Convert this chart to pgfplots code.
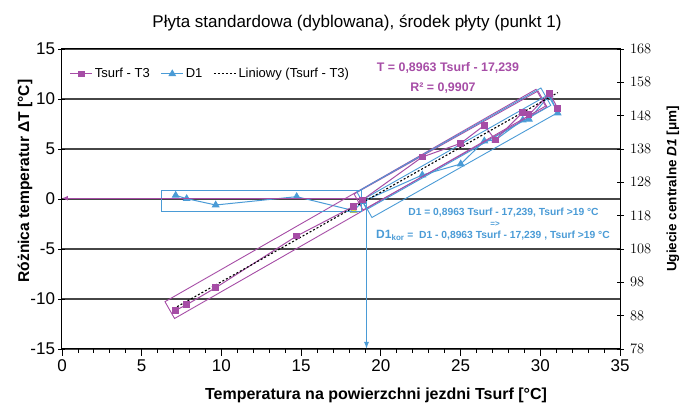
\documentclass[border=0pt]{standalone}
\usepackage{pgfplots}
\pgfplotsset{compat=1.18}
\usepackage{fontspec}
\setmainfont{Liberation Sans}
\usetikzlibrary{arrows.meta}
\definecolor{mag}{RGB}{166,77,166}
\definecolor{blu}{RGB}{74,155,214}
\definecolor{gridc}{RGB}{70,70,70}
\definecolor{yel}{RGB}{235,225,40}
\begin{document}
\begin{tikzpicture}[x=1pt,y=1pt]
\useasboundingbox (-62,-58) rectangle (619,349);
% axis 1: left axis with grid
\begin{axis}[
  scale only axis, width=558pt, height=300pt,
  at={(0,0)}, anchor=south west,
  xmin=0, xmax=35, ymin=-15, ymax=15,
  xtick={0,5,...,35}, minor x tick num=4,
  ytick={-15,-10,...,15},
  yticklabels={-15,-10,-5,0,5,10,15},
  xticklabels={0,5,10,15,20,25,30,35},
  axis line style={black, line width=1pt},
  ymajorgrids, grid style={gridc, line width=1.1pt},
  xtick pos=bottom, ytick pos=left,
  x tick style={black, line width=0.8pt}, xtick align=outside,
  y tick style={black, line width=0.8pt}, ytick align=center,
  major tick length=7pt, minor tick length=4pt,
  tick label style={font=\fontsize{17}{17}\selectfont},
]
\end{axis}
% axis 2: right axis, D1
\begin{axis}[
  scale only axis, width=558pt, height=300pt,
  at={(0,0)}, anchor=south west,
  xmin=0, xmax=35, ymin=78, ymax=168,
  axis x line=none, axis y line*=right,
  axis line style={black, line width=1pt},
  ytick={78,88,...,168},
  y tick style={black, line width=0.8pt}, ytick align=center,
  major tick length=7pt,
  tick label style={font=\fontsize{15}{15}\selectfont},
  every y tick label/.append style={xshift=3pt},
  clip=false,
]
\addplot[blu, line width=1pt, mark=triangle*, mark size=3.6pt, mark options={solid, fill=blu, draw=blu}] coordinates {
(7.13,124.1) (7.82,123.1) (9.64,121.2) (14.72,123.7) (18.30,119.5) (18.84,122.2)
(22.60,130.2) (25.01,133.5) (26.49,140.4) (27.18,140.7) (28.90,146.7) (29.29,146.9)
(30.59,154.2) (31.09,148.8)};
\addplot[only marks, mark=triangle*, mark size=3.6pt, mark options={fill=yel, draw=yel}] coordinates {(18.30,119.5)};
\end{axis}
% axis 3: magenta series, trend, legend, annotations
\begin{axis}[
  scale only axis, width=558pt, height=300pt,
  at={(0,0)}, anchor=south west,
  xmin=0, xmax=35, ymin=-15, ymax=15,
  hide axis, clip=false,
  legend columns=3,
  legend style={at={(0.012,0.917)}, anchor=west, draw=none, fill=none,
    font=\fontsize{13}{13}\selectfont, inner sep=1pt,
    /tikz/every even column/.append style={column sep=9pt}},
  legend cell align=left,
  legend image code/.code={\draw[mark repeat=2,mark phase=2,#1] plot coordinates {(0pt,0pt) (11pt,0pt) (22pt,0pt)};},
]
% boxes
\draw[mag, line width=0.9pt] (axis cs:6.46,-10.27) -- (axis cs:29.73,10.97) -- (axis cs:30.33,9.29) -- (axis cs:7.06,-11.95) -- cycle;
\draw[mag, line width=0.9pt] (axis cs:18.32,0.5) -- (axis cs:29.86,10.8) -- (axis cs:30.42,9.2) -- (axis cs:18.88,-1.1) -- cycle;
\draw[blu, line width=0.9pt] (axis cs:6.25,0.87) rectangle (axis cs:18.8,-1.27);
\draw[blu, line width=0.9pt] (axis cs:18.50,0.70) -- (axis cs:30.04,11.1) -- (axis cs:30.66,9.36) -- (axis cs:19.12,-1.04) -- cycle;
\draw[blu, line width=0.9pt] (axis cs:18.82,-0.1) -- (axis cs:30.48,10.4) -- (axis cs:31.11,8.65) -- (axis cs:19.44,-1.85) -- cycle;
% arrows
\draw[mag, line width=1.2pt, -{Latex[length=6pt,width=5pt]}] (axis cs:18.84,0.08) -- (axis cs:0,0.08);
\draw[blu, line width=1.2pt, -{Latex[length=7pt,width=5pt]}] (axis cs:19.1,0) -- (axis cs:19.1,-15);
\addplot[mag, line width=1pt, mark=square*, mark size=2.8pt, mark options={solid, fill=mag, draw=mag}] coordinates {
(7.13,-11.13) (7.82,-10.57) (9.64,-8.87) (14.72,-3.70) (18.30,-0.73) (18.84,-0.10)
(22.60,4.20) (25.01,5.57) (26.49,7.37) (27.18,5.90) (28.90,8.67) (29.29,8.43)
(30.59,10.57) (31.09,9.07)};
\addlegendentry{Tsurf - T3}
\addlegendimage{blu, line width=1pt, mark=triangle*, mark size=3.6pt, mark options={solid, fill=blu, draw=blu}}
\addlegendentry{D1}
\addplot[black, line width=1.1pt, dash pattern=on 2pt off 2pt] coordinates {(7.0,-10.965) (31.1,10.636)};
\addlegendentry{Liniowy (Tsurf - T3)}
\end{axis}
% texts
\node[font=\fontsize{17}{17}\selectfont] at (295,326) {Płyta standardowa (dyblowana), środek płyty (punkt 1)};
\node[font=\fontsize{16}{16}\selectfont\bfseries] at (314,-46) {Temperatura na powierzchni jezdni Tsurf [°C]};
\node[font=\fontsize{15.6}{15.6}\selectfont\bfseries, rotate=90] at (-37,168) {Różnica temperatur ΔT [°C]};
\node[font=\fontsize{13.5}{13.5}\selectfont\bfseries, rotate=90] at (611,160) {Ugiecie centralne \textit{D1} [μm]};
\node[mag, font=\fontsize{12.4}{12.4}\selectfont\bfseries] at (386,281) {T = 0,8963 Tsurf - 17,239};
\node[mag, font=\fontsize{12.4}{12.4}\selectfont\bfseries] at (381,261) {R² = 0,9907};
\node[blu, font=\fontsize{10.3}{10.3}\selectfont\bfseries] at (441.5,136) {D1 = 0,8963 Tsurf - 17,239, Tsurf >19 °C};
\node[blu, font=\fontsize{8}{8}\selectfont\bfseries] at (433,125) {=>};
\node[blu, font=\fontsize{10.3}{10.3}\selectfont\bfseries] at (431,113.5) {{\fontsize{12}{12}\selectfont D1\textsubscript{kor}} =\ \ D1 - 0,8963 Tsurf - 17,239 , Tsurf >19 °C};
\end{tikzpicture}
\end{document}
